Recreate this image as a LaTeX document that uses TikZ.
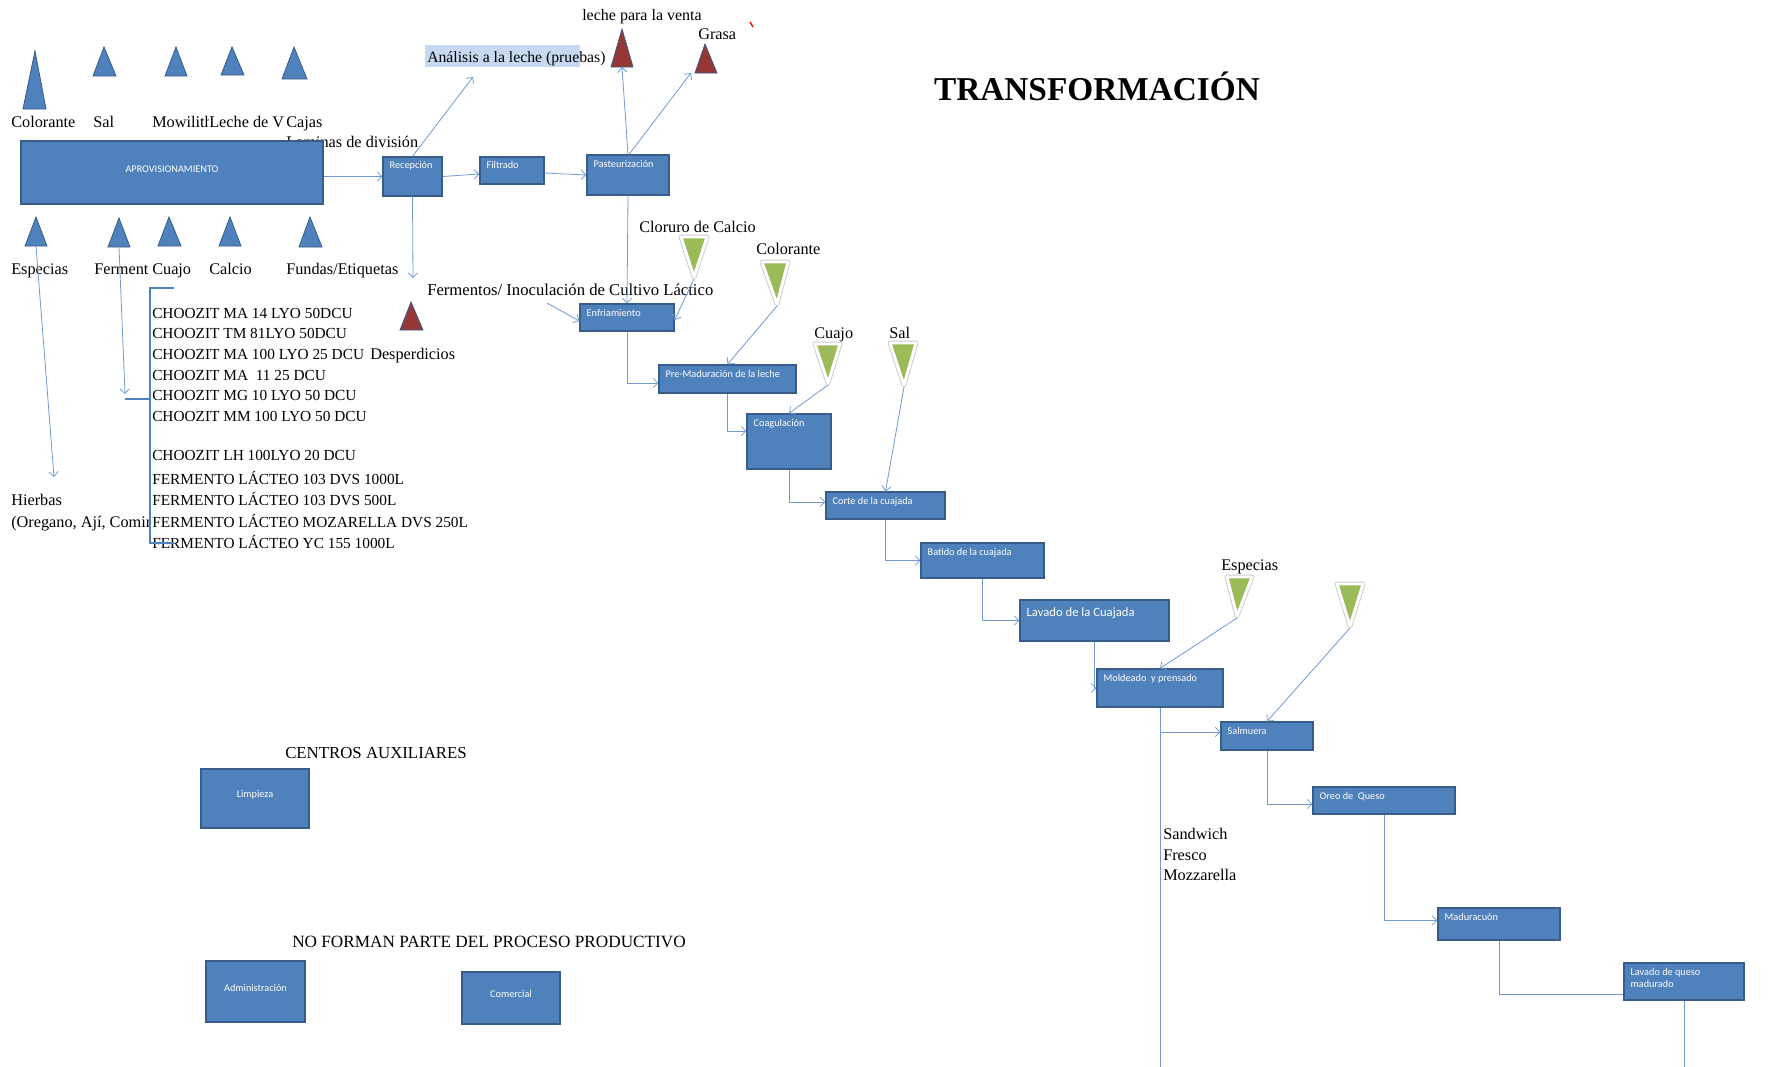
\documentclass[tikz,border=0pt]{standalone}
\usepackage{fontspec}
\setmainfont{Liberation Serif}
\newfontfamily\boxfont{Carlito}
\usetikzlibrary{arrows.meta,fit}
\definecolor{boxblue}{HTML}{4F81BD}
\definecolor{boxedge}{HTML}{385D8A}
\definecolor{conncol}{HTML}{6F9BD1}
\definecolor{tgreen}{HTML}{9BBB59}
\definecolor{tred}{HTML}{953735}
\definecolor{hilite}{HTML}{C6D9F1}
\tikzset{
  procbox/.style={draw=boxedge, fill=boxblue, line width=0.9pt, inner sep=0pt, text=white, font=\boxfont\fontsize{7.7}{9}\selectfont},
  boxtxt/.style={inner sep=0pt, anchor=base west, text=white, font=\boxfont\fontsize{7.7}{9}\selectfont, align=left},
  lbl/.style={inner sep=0pt, anchor=base west, font=\fontsize{12.2}{14}\selectfont},
  lst/.style={inner sep=0pt, anchor=base west, font=\fontsize{11.5}{13}\selectfont},
  conn/.style={draw=conncol, line width=0.6pt},
  arr/.style={conn, -{Straight Barb[length=3.5pt,width=7pt]}},
  brk/.style={draw=boxblue, line width=1pt},
  bluetri/.style={fill=boxblue, draw=boxedge, line width=0.6pt},
  redtri/.style={fill=tred, draw=boxedge, line width=0.6pt},
}
% name, style, apex x, apex y, left x, right x, base y
\newcommand\mytri[7]{%
  \path[#2] (#3,#4) -- (#6,#7) -- (#5,#7) -- cycle;
  \coordinate (#1-a) at (#3,#4);
  \coordinate (#1-b) at ({(#5+#6)/2},#7);}
% name, left x, right x, top y, apex x, apex y
\newcommand\mygtri[6]{%
  \draw[gray!40, line width=3.6pt, line join=round] (#2,#4) -- (#3,#4) -- (#5,#6) -- cycle;
  \draw[white, line width=2.2pt, line join=round, fill=tgreen] (#2,#4) -- (#3,#4) -- (#5,#6) -- cycle;
  \coordinate (#1) at (#5,{#6+2});}
\begin{document}
\begin{tikzpicture}[x=0.75pt,y=-0.75pt]
\useasboundingbox (0,0) rectangle (1779,1067);
\fill[white] (0,0) rectangle (1779,1067);

% ---------- top-left supply triangles and labels
\mytri{col}{bluetri}{35}{51}{23}{46}{109}
\mytri{sal}{bluetri}{104}{47}{93}{116}{76}
\mytri{mow}{bluetri}{176}{47}{165}{187}{76}
\mytri{lvac}{bluetri}{232}{47}{221}{244}{75}
\mytri{caj}{bluetri}{294}{47}{282}{307}{79}
\node[lbl] (tColor) at (11,127) {Colorante};
\node[lbl] (tSal) at (93,127) {Sal};
\begin{scope}
\clip (150,100) rectangle (208,135);
\node[lbl] (tMow) at (152,127) {Mowilith};
\end{scope}
\node[lbl] (tLeche) at (209,127) {Leche de V};
\node[lbl] (tCaj) at (286,127) {Cajas};
\node[lbl] (tLam) at (286,147) {Laminas de división};

\node[procbox, fit={(21,141) (323,204)}] (aprov) {APROVISIONAMIENTO};

% ---------- bottom-left supply triangles and labels
\mytri{esp}{bluetri}{36}{217}{25}{47}{246}
\mytri{ferm}{bluetri}{119}{218}{108}{130}{247}
\mytri{cuaL}{bluetri}{169}{217}{158}{181}{246}
\mytri{cal}{bluetri}{230}{217}{219}{241}{246}
\mytri{fun}{bluetri}{310}{217}{299}{322}{247}
\node[lbl] (tEsp) at (11,274) {Especias};
\node[lbl] (tFerm) at (94,274) {Ferment};
\node[lbl] (tCuaL) at (152,274) {Cuajo};
\node[lbl] (tCal) at (209,274) {Calcio};
\node[lbl] (tFun) at (286,274) {Fundas/Etiquetas};

\node[lbl] (tHier) at (11,505) {Hierbas};
\begin{scope}
\clip (0,510) rectangle (149.5,535);
\node[lbl] (tOreg) at (11,527) {(Oregano, Ají, Comin};
\end{scope}

% list of cultures
\node[lst] (l1) at (152,318) {CHOOZIT MA 14 LYO 50DCU};
\node[lst] (l2) at (152,338) {CHOOZIT TM 81LYO 50DCU};
\node[lst] (l3) at (152,359) {CHOOZIT MA 100 LYO 25 DCU};
\node[lst] (l4) at (152,380) {CHOOZIT MA \ 11 25 DCU};
\node[lst] (l5) at (152,400) {CHOOZIT MG 10 LYO 50 DCU};
\node[lst] (l6) at (152,421) {CHOOZIT MM 100 LYO 50 DCU};
\node[lst] (l7) at (152,460) {CHOOZIT LH 100LYO 20 DCU};
\node[lst] (l8) at (152,484) {FERMENTO LÁCTEO 103 DVS 1000L};
\node[lst] (l9) at (152,505) {FERMENTO LÁCTEO 103 DVS 500L};
\node[lst] (l10) at (152,527) {FERMENTO LÁCTEO MOZARELLA DVS 250L};
\node[lst] (l11) at (152,548) {FERMENTO LÁCTEO YC 155 1000L};

\coordinate (bk0) at (125,399);
\coordinate (bk1) at (150,399);
\coordinate (bkt) at (150,288);
\coordinate (bkt2) at (174,288);
\coordinate (bkb) at (150,543);
\coordinate (bkb2) at (174,543);
\draw[brk] (bkt2) -- (bkt) -- (bkb) -- (bkb2);
\draw[brk] (bk0) -- (bk1);

\coordinate (hierbTip) at (54,477);
\draw[arr] (esp-b) -- (hierbTip);
\coordinate (fermTip) at (125,394);
\draw[arr] (ferm-b) -- (fermTip);

% Desperdicios
\mytri{desp}{redtri}{411}{302}{400}{423}{330}
\node[lbl] (tDesp) at (370,359) {Desperdicios};

% ---------- top outputs
\fill[hilite] (425,45) rectangle (580,67);
\node[lbl, font=\fontsize{11.8}{14}\selectfont] (tAna) at (427,62) {Análisis a la leche (pruebas)};
\node[lbl, font=\fontsize{12}{14}\selectfont] (tVenta) at (582,21) {leche para la venta};
\mytri{leche}{redtri}{622}{29}{611}{633}{67}
\node[lbl] (tGrasa) at (698,40) {Grasa};
\mytri{grasa}{redtri}{705}{44}{695}{717}{73}
\draw[red, line width=1pt] (750,22) -- (753,27);

\node[font=\bfseries\fontsize{25}{30}\selectfont, inner sep=0pt, anchor=base] (title) at (1097,100) {TRANSFORMACIÓN};

% ---------- process boxes
\node[procbox, fit={(383,157) (442,196)}] (recep) {};
\node[boxtxt] (recepT) at ([shift={(7,12.5)}]recep.north west) {Recepción};
\node[procbox, fit={(480,157) (544,184)}] (filt) {};
\node[boxtxt] (filtT) at ([shift={(7,12.5)}]filt.north west) {Filtrado};
\node[procbox, fit={(587,155) (669,195)}] (past) {};
\node[boxtxt] (pastT) at ([shift={(7,13.5)}]past.north west) {Pasteurización};
\node[procbox, fit={(580,304) (674,331)}] (enf) {};
\node[boxtxt] (enfT) at ([shift={(7,13.5)}]enf.north west) {Enfriamiento};
\node[procbox, fit={(659,365) (796,393)}] (premad) {};
\node[boxtxt] (premadT) at ([shift={(7,13.5)}]premad.north west) {Pre-Maduración\ de la leche};
\node[procbox, fit={(747,414) (831,469)}] (coag) {};
\node[boxtxt] (coagT) at ([shift={(7,13.5)}]coag.north west) {Coagulación};
\node[procbox, fit={(826,492) (945,519)}] (corte) {};
\node[boxtxt] (corteT) at ([shift={(7,13.5)}]corte.north west) {Corte de la cuajada};
\node[procbox, fit={(921,543) (1044,578)}] (batido) {};
\node[boxtxt] (batidoT) at ([shift={(7,13.5)}]batido.north west) {Batido de la cuajada};
\node[procbox, fit={(1020,600) (1169,641)}] (lavado) {};
\node[boxtxt, font=\boxfont\fontsize{9.5}{11}\selectfont] (lavadoT) at ([shift={(7,17)}]lavado.north west) {Lavado de la Cuajada};
\node[procbox, fit={(1097,669) (1223,707)}] (molde) {};
\node[boxtxt] (moldeT) at ([shift={(7,13.5)}]molde.north west) {Moldeado\ \ y prensado};
\node[procbox, fit={(1221,722) (1313,750)}] (salm) {};
\node[boxtxt] (salmT) at ([shift={(7,13.5)}]salm.north west) {Salmuera};
\node[procbox, fit={(1313,787) (1455,814)}] (oreo) {};
\node[boxtxt] (oreoT) at ([shift={(7,13.5)}]oreo.north west) {Oreo de\ \ Queso};
\node[procbox, fit={(1438,908) (1560,940)}] (madur) {};
\node[boxtxt] (madurT) at ([shift={(7,13.5)}]madur.north west) {Maduracuón};
\node[procbox, fit={(1624,963) (1744,1000)}] (lavq) {};
\node[boxtxt] (lavqT1) at ([shift={(7,13.5)}]lavq.north west) {Lavado de queso};
\node[boxtxt] (lavqT2) at ([shift={(7,25.5)}]lavq.north west) {madurado};

\node[procbox, fit={(201,769) (309,828)}] (limp) {Limpieza};
\node[procbox, fit={(206,961) (305,1022)}] (admin) {Administración};
\node[procbox, fit={(462,972) (560,1024)}] (comer) {Comercial};
\node[lbl, font=\fontsize{12.6}{14}\selectfont] (tCentros) at (285,758) {CENTROS AUXILIARES};
\node[lbl, font=\fontsize{12.9}{14}\selectfont] (tNoForm) at (292,947) {NO FORMAN PARTE DEL PROCESO PRODUCTIVO};

% ---------- green inputs
\node[lbl, font=\fontsize{12.5}{14}\selectfont] (tFermI) at (427,295) {Fermentos/\ Inoculación de Cultivo Láctico};
\node[lbl] (tClor) at (639,232) {Cloruro de Calcio};
\mygtri{clor}{681}{707}{237}{694}{277}
\node[lbl] (tColR) at (756,254) {Colorante};
\mygtri{colr}{762}{788}{262}{777}{304}
\node[lbl] (tCuaR) at (814,338) {Cuajo};
\mygtri{cuaj}{815}{840}{344}{828}{383}
\node[lbl] (tSalR) at (889,338) {Sal};
\mygtri{salr}{890}{916}{343}{904}{385}
\node[lbl] (tEspR) at (1221,570) {Especias};
\mygtri{espr}{1227}{1252}{577}{1237}{616}
\mygtri{tri2}{1337}{1363}{584}{1350}{626}

\node[lbl, align=left, font=\fontsize{12.2}{15.5}\selectfont, anchor=north west] (tProd) at (1163,828) {Sandwich\\Fresco\\Mozzarella};

% ---------- connectors
\draw[arr] (aprov.east |- recep.west) -- (recep.west);
\draw[arr] (recep.east) -- ([shift={(0,3.5)}]filt.west);
\draw[arr] ([shift={(0,2.5)}]filt.east) -- (past.west);
\coordinate (anaTip) at (473,77);
\draw[arr] (recep.north) -- (anaTip);
\coordinate (recDown) at (413,278);
\draw[arr] (recep.south) -- (recDown);
\draw[arr] (past.north) -- (leche-b);
\coordinate (grasaTip) at (691,73);
\draw[arr] ([shift={(1,0)}]past.north) -- (grasaTip);
\draw[arr] (past.south) -- (enf.north);
\coordinate (fermStart) at (547,303);
\draw[arr] (fermStart) -- ([shift={(0,3.5)}]enf.west);
\draw[arr] (clor) -- ([shift={(0,2.5)}]enf.east);
\draw[arr] (colr) -- (premad.north);
\draw[arr] (cuaj) -- (coag.north);
\draw[arr] (salr) -- (corte.north);
\draw[arr] (espr) -- (molde.north);
\draw[arr] (tri2) -- (salm.north);
\draw[arr] (enf.south) |- ([shift={(0,4)}]premad.west);
\draw[arr] (premad.south) |- ([shift={(0,-10.5)}]coag.west);
\draw[arr] (coag.south) |- ([shift={(0,-3.5)}]corte.west);
\draw[arr] (corte.south) |- (batido.west);
\draw[arr] (batido.south) |- (lavado.west);
\draw[arr] (lavado.south) |- (molde.west);
\draw[arr] (molde.south) |- ([shift={(0,-4)}]salm.west);
\coordinate (moldeEnd) at (1160,1067);
\draw[conn] (molde.south) -- (moldeEnd);
\draw[arr] (salm.south) |- ([shift={(0,3.5)}]oreo.west);
\draw[arr] (oreo.south) |- ([shift={(0,-3.5)}]madur.west);
\draw[conn] (madur.south) |- ([shift={(0,12.5)}]lavq.west);
\coordinate (lavqEnd) at (1684,1067);
\draw[conn] (lavq.south) -- (lavqEnd);
\end{tikzpicture}
\end{document}
